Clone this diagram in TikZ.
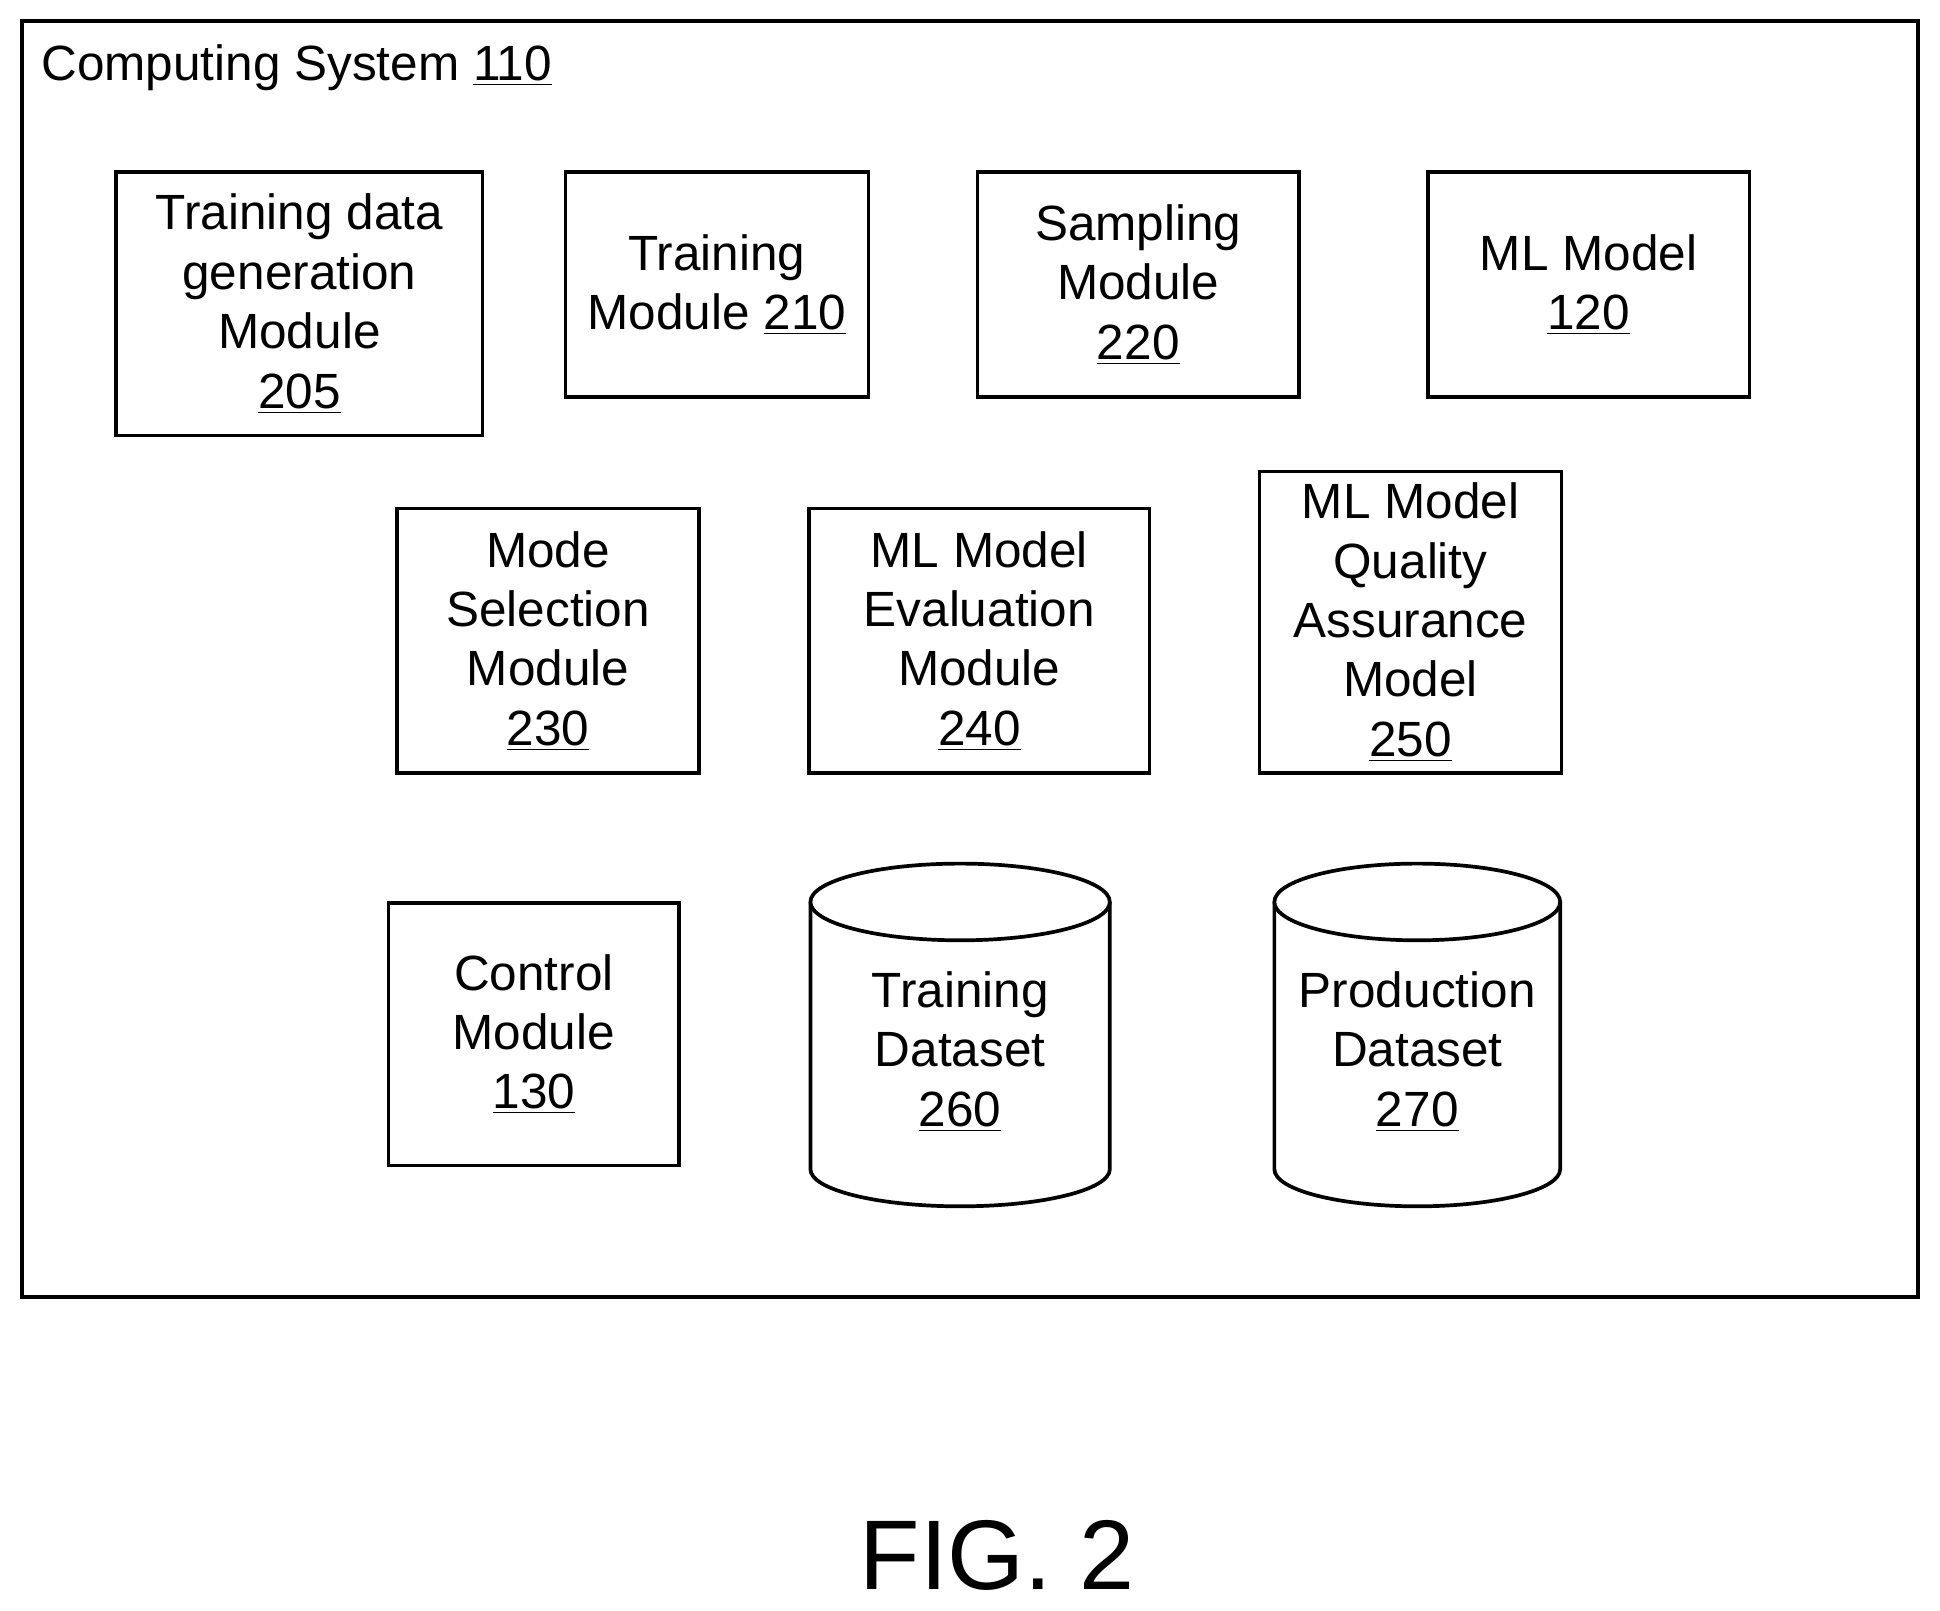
\documentclass[tikz,border=0pt]{standalone}
\usepackage{fontspec}
\setmainfont{Liberation Sans}
\begin{document}
\begin{tikzpicture}[x=0.5pt,y=-0.5pt,
  box/.style={draw,line width=1.5pt,align=center,font=\fontsize{20}{24}\selectfont,inner sep=0pt},
  lbl/.style={align=center,font=\fontsize{20}{24}\selectfont,inner sep=0pt},
  cyl/.style={draw,line width=1.5pt,fill=white}]
\useasboundingbox (0,0) rectangle (1568,1302);
\draw[line width=1.5pt] (18,17) rectangle (1550,1048);
\node[lbl,anchor=west] (title) at (33,55) {Computing System \underline{110}};
\newcommand{\bx}[6]{\node[box,minimum width=#4*0.5pt-#2*0.5pt,minimum height=#5*0.5pt-#3*0.5pt] (#1) at ({(#2+#4)/2},{(#3+#5)/2}) {#6};}
\bx{m205}{94}{139}{390}{352}{Training data\\generation\\Module\\\underline{205}}
\bx{m210}{457}{139}{702}{321}{Training\\Module \underline{210}}
\bx{m220}{790}{139}{1050}{321}{Sampling\\Module\\\underline{220}}
\bx{m120}{1154}{139}{1414}{321}{ML Model\\\underline{120}}
\bx{m230}{321}{411}{565}{625}{Mode\\Selection\\Module\\\underline{230}}
\bx{m240}{654}{411}{929}{625}{ML Model\\Evaluation\\Module\\\underline{240}}
\bx{m250}{1018}{381}{1262}{625}{ML Model\\Quality\\Assurance\\Model\\\underline{250}}
\bx{m130}{314}{730}{549}{942}{Control\\Module\\\underline{130}}
% cylinders
\draw[cyl] (655,729) -- (655,945) arc[start angle=180,end angle=360,x radius=121,y radius=-30] -- (897,729);
\draw[cyl] (776,729) ellipse [x radius=121,y radius=31];
\node[lbl] (d260) at (776,850) {Training\\Dataset\\\underline{260}};
\draw[cyl] (1030,729) -- (1030,945) arc[start angle=180,end angle=360,x radius=115.5,y radius=-30] -- (1261,729);
\draw[cyl] (1145.5,729) ellipse [x radius=115.5,y radius=31];
\node[lbl] (d270) at (1145.5,850) {Production\\Dataset\\\underline{270}};
\node[lbl,font=\fontsize{40}{48}\selectfont] (fig) at (806,1257) {FIG. 2};
\end{tikzpicture}
\end{document}
